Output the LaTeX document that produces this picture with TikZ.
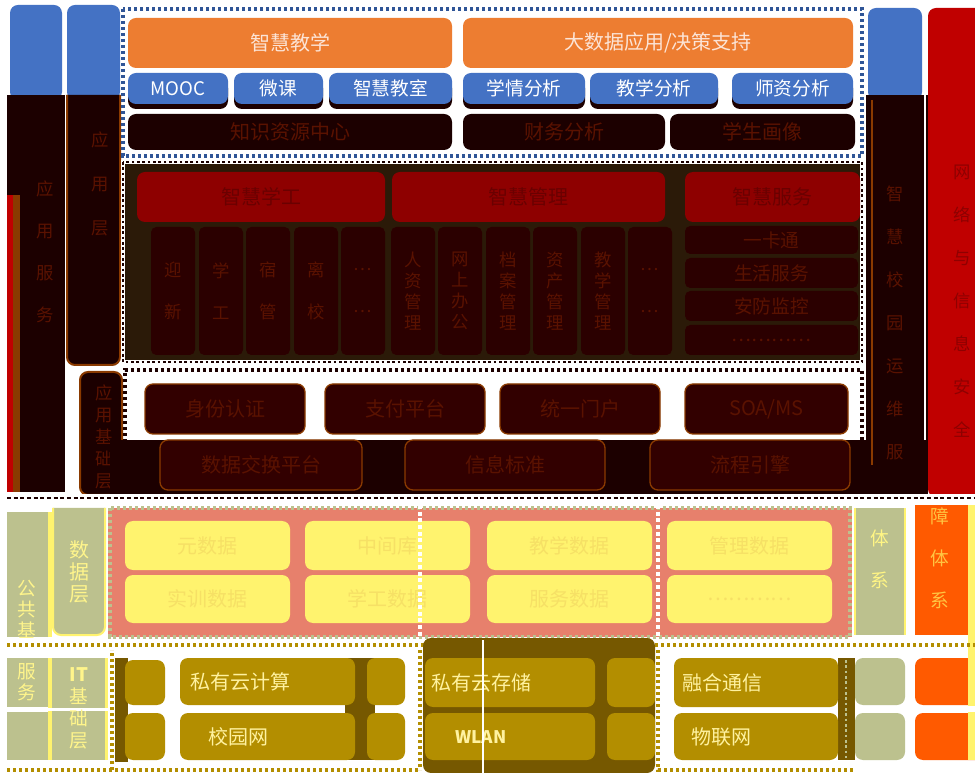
\documentclass[tikz,border=0pt]{standalone}
\usepackage{fontspec}
\setmainfont{Noto Sans CJK SC}
\usepackage{tikz}
\usetikzlibrary{calc}

\definecolor{blu}{HTML}{4472C4}
\definecolor{arancio}{HTML}{ED7D31}
\definecolor{pesca}{HTML}{FCE4D6}
\definecolor{nero}{HTML}{1C0000}
\definecolor{nerob}{HTML}{320000}
\definecolor{rossotxt}{HTML}{5A1200}
\definecolor{rossoh}{HTML}{8E0000}
\definecolor{rossotxtb}{HTML}{6A0000}
\definecolor{marrone}{HTML}{2B1A08}
\definecolor{bordo}{HTML}{8A3A00}
\definecolor{rossocol}{HTML}{C00000}
\definecolor{bluscuro}{HTML}{2F5597}
\definecolor{oliva}{HTML}{BCC18E}
\definecolor{salmone}{HTML}{E7806C}
\definecolor{giallo}{HTML}{FFF36E}
\definecolor{giallotxt}{HTML}{F6E065}
\definecolor{oro}{HTML}{B38E00}
\definecolor{orosc}{HTML}{765800}
\definecolor{orotxt}{HTML}{FFF2A0}
\definecolor{arancrosso}{HTML}{FF5A00}

% riquadro: nome, stile, x1, y1, x2, y2, testo
\newcommand{\blocco}[7]{%
  \node[#2, minimum width={((#5)-(#3))*0.75pt}, minimum height={((#6)-(#4))*0.75pt}]
    (#1) at ({((#3)+(#5))/2},{((#4)+(#6))/2}) {#7};}

\begin{document}
\begin{tikzpicture}[x=0.75pt, y=-0.75pt,
  box/.style={rounded corners=6pt, inner sep=0pt, align=center, font=\fontsize{15}{18}\selectfont},
  titolo/.style={box, fill=arancio, text=pesca},
  modulo/.style={box, fill=blu, text=white, font=\fontsize{14}{16}\selectfont},
  scuro/.style={box, fill=nero, text=rossotxt},
  testa/.style={box, fill=rossoh, text=rossotxtb},
  verticale/.style={box, rounded corners=4pt, fill=nerob!70!nero, text=rossotxt, font=\fontsize{13}{15.75}\selectfont},
  verticaleb/.style={verticale, font=\fontsize{13}{31.5}\selectfont},
  servizio/.style={box, rounded corners=4pt, fill=nerob!70!nero, text=rossotxt, font=\fontsize{14}{16}\selectfont},
  supporto/.style={box, fill=nerob, draw=bordo, line width=1pt, text=rossotxt},
  dato/.style={box, fill=giallo, text=giallotxt},
  infra/.style={box, fill=oro},
  infratxt/.style={inner sep=0pt, text=orotxt, font=\fontsize{15}{18}\selectfont},
  colvert/.style={inner sep=0pt, align=center},
  cornice/.style={dash pattern=on 2.5pt off 2pt, line width=2.5pt}]

  \useasboundingbox (0,0) rectangle (975,773);
  \fill[white] (0,0) rectangle (975,773);

  % colonne di sinistra
  \fill[blu, rounded corners=6pt] (10,5) rectangle (62,100);
  \fill[nero] (7,95) rectangle (65,492);
  \fill[rossocol] (7,195) rectangle (13,492);
  \fill[bordo] (13,195) rectangle (20,492);
  \node[colvert, text=rossotxt, font=\fontsize{13}{31.5}\selectfont] (servizi) at (45,252) {应\\用\\服\\务};
  \fill[blu, rounded corners=6pt] (67,5) rectangle (120,100);
  \draw[bordo, line width=1.5pt, fill=nero, rounded corners=6pt] (67,95) -- (67,365) -- (120,365) -- (120,95);
  \node[colvert, text=rossotxt, font=\fontsize{13}{33}\selectfont] (appl) at (100,184) {应\\用\\层};
  \draw[bordo, line width=1.5pt, fill=nero, rounded corners=6pt] (80,372) rectangle (122,495);
  \node[colvert, text=rossotxt, font=\fontsize{13}{16.5}\selectfont] (applbase) at (104,437) {应\\用\\基\\础\\层};

  % colonne di destra
  \fill[blu, rounded corners=6pt] (868,8) rectangle (922,100);
  \fill[nero] (866,95) rectangle (935,470);
  \draw[bordo, line width=1.5pt] (872,100) -- (872,465);
  \draw[white, line width=0.8pt] (925,95) -- (925,440);
  \fill[rossocol, rounded corners=6pt] (928,8) rectangle (985,497);
  \node[colvert, text=rossoh, font=\fontsize{13}{32.3}\selectfont] (sicurezza) at (962,301) {网\\络\\与\\信\\息\\安\\全};

  % livello applicativo: smart teaching
  \draw[cornice, bluscuro] (123,9) rectangle (862,156);
  \blocco{zhjx}{titolo}{128}{18}{452}{68}{智慧教学}
  \blocco{dsj}{titolo}{463}{18}{853}{68}{大数据应用/决策支持}
  \foreach \a/\b/\n/\t in {128/228/mooc/MOOC, 234/323/weike/微课, 329/452/jiaoshi/智慧教室,
      463/585/xueqing/学情分析, 590/718/jxfx/教学分析, 732/853/shizi/师资分析} {
    \fill[nero, rounded corners=6pt] (\a,80) rectangle (\b,109);
    \blocco{\n}{modulo}{\a}{73}{\b}{104}{\t}
  }
  \blocco{zsk}{scuro}{128}{114}{452}{150}{知识资源中心}
  \blocco{cwfx}{scuro}{463}{114}{665}{150}{财务分析}
  \blocco{xshx}{scuro}{670}{114}{855}{150}{学生画像}

  % livello applicativo: gestione
  \fill[marrone] (123,162) rectangle (862,362);
  \draw[white, line width=3pt] (123,162) rectangle (862,362);
  \draw[nero, dash pattern=on 2pt off 2pt, line width=1.5pt] (123,162) rectangle (862,362);
  \blocco{xg}{testa}{137}{172}{385}{222}{智慧学工}
  \blocco{gl}{testa}{392}{172}{665}{222}{智慧管理}
  \blocco{fw}{testa}{685}{172}{860}{222}{智慧服务}
  \foreach \c/\n/\t in {173/yx/迎\\新, 221/xgg/学\\工, 268/sg/宿\\管, 316/lx/离\\校, 363/xgd/…\\…} {
    \blocco{\n}{verticaleb}{\c-22}{227}{\c+22}{355}{\t}
  }
  \foreach \c/\n/\t in {413/rz/人\\资\\管\\理, 460/wsbg/网\\上\\办\\公, 508/da/档\\案\\管\\理,
      555/zc/资\\产\\管\\理, 603/jxgl/教\\学\\管\\理} {
    \blocco{\n}{verticale}{\c-22}{227}{\c+22}{355}{\t}
  }
  \blocco{gld}{verticaleb}{628}{227}{672}{355}{…\\…}
  \blocco{ykt}{servizio}{685}{226}{858}{254}{一卡通}
  \blocco{shfw}{servizio}{685}{258}{858}{288}{生活服务}
  \blocco{afjk}{servizio}{685}{291}{858}{321}{安防监控}
  \blocco{fwd}{servizio}{685}{325}{858}{355}{…………}

  % livello di supporto applicativo
  \draw[cornice, nero] (125,442) -- (125,370) -- (862,370) -- (862,442);
  \fill[nero] (110,440) rectangle (866,496);
  \blocco{sfrz}{supporto}{145}{384}{305}{434}{身份认证}
  \blocco{zfpt}{supporto}{325}{384}{485}{434}{支付平台}
  \blocco{tymh}{supporto}{500}{384}{660}{434}{统一门户}
  \blocco{soa}{supporto}{685}{384}{848}{434}{SOA/MS}
  \blocco{sjjh}{supporto}{160}{440}{362}{490}{数据交换平台}
  \blocco{xxbz}{supporto}{405}{440}{605}{490}{信息标准}
  \blocco{lcyq}{supporto}{650}{440}{850}{490}{流程引擎}
  \fill[nero] (866,470) rectangle (928,496);
  \node[colvert, text=rossotxt, font=\fontsize{13}{32.3}\selectfont] (operativo) at (895,323) {智\\慧\\校\\园\\运\\维\\服};
  \fill[white] (0,494) rectangle (975,503);
  \draw[nero, dash pattern=on 3pt off 2pt, line width=2pt] (7,498) -- (975,498);

  % livello dati
  \fill[oliva] (7,512) rectangle (48,637);
  \fill[giallo] (48,512) rectangle (52,637);
  \node[colvert, text=giallo!80!white, font=\fontsize{14}{15.75}\selectfont] (pubblico) at (27,609) {公\\共\\基};
  \draw[giallo, line width=1.5pt, fill=oliva, rounded corners=6pt] (53,508) -- (53,635) -- (105,635) -- (105,508);
  \node[colvert, text=giallo!80!white, font=\fontsize{15}{16.5}\selectfont] (datilv) at (79,572) {数\\据\\层};
  \fill[salmone] (108,508) rectangle (852,637);
  \draw[cornice, oliva] (110,508) rectangle (850,637);
  \blocco{ysj}{dato}{125}{521}{290}{570}{元数据}
  \blocco{zjk}{dato}{305}{521}{470}{570}{中间库}
  \blocco{jxsj}{dato}{487}{521}{652}{570}{教学数据}
  \blocco{glsj}{dato}{667}{521}{832}{570}{管理数据}
  \blocco{sxsj}{dato}{125}{575}{290}{623}{实训数据}
  \blocco{xgsj}{dato}{305}{575}{470}{623}{学工数据}
  \blocco{fwsj}{dato}{487}{575}{652}{623}{服务数据}
  \blocco{dtd}{dato}{667}{575}{832}{623}{…………}
  \draw[white, dash pattern=on 3pt off 2pt, line width=2.5pt] (420,505) -- (420,637);
  \draw[white, dash pattern=on 3pt off 2pt, line width=2.5pt] (658,505) -- (658,637);
  \fill[oliva] (855,508) rectangle (905,635);
  \draw[giallo, line width=1.5pt] (855,508) -- (855,635) (905,508) -- (905,635);
  \node[colvert, text=giallo!85!white, font=\fontsize{14}{31.5}\selectfont] (sistema) at (880,559) {体\\系};
  \fill[arancrosso] (915,505) rectangle (968,635);
  \fill[giallo] (968,505) rectangle (975,760);
  \node[colvert, text=giallo!60!orange, font=\fontsize{14}{31.5}\selectfont] (garanzia) at (940,558) {障\\体\\系};

  % livello infrastruttura IT
  \draw[cornice, oro] (7,645) -- (975,645);
  \fill[oliva] (7,658) rectangle (48,707);
  \fill[oliva] (7,712) rectangle (48,760);
  \fill[giallo] (48,658) rectangle (52,760);
  \node[colvert, text=giallo!80!white, font=\fontsize{14}{15.75}\selectfont] (pubblicob) at (27,682) {服\\务};
  \fill[oliva] (52,658) rectangle (105,760);
  \fill[giallo] (105,658) rectangle (108,760);
  \fill[white] (7,708) rectangle (110,711);
  \node[colvert, text=giallo!80!white, font=\fontsize{14}{16.5}\selectfont] (itlv) at (79,708) {\textbf{IT}\\基\\础\\层};
  \draw[cornice, oro] (112,770) -- (112,650) (420,650) -- (420,770);
  \draw[cornice, oro] (7,770) -- (420,770);
  \fill[orosc] (115,658) rectangle (128,762);
  \blocco{itsa}{infra}{125}{660}{165}{705}{}
  \blocco{itsb}{infra}{125}{713}{165}{760}{}
  \fill[orosc] (345,658) rectangle (375,760);
  \blocco{cloud}{infra}{180}{658}{355}{705}{}
  \node[infratxt] (cloud-t) at (240,682) {私有云计算};
  \blocco{clouds}{infra}{367}{658}{405}{705}{}
  \blocco{campus}{infra}{180}{713}{355}{760}{}
  \node[infratxt] (campus-t) at (238,737) {校园网};
  \blocco{campuss}{infra}{367}{713}{405}{760}{}
  \fill[orosc, rounded corners=6pt] (423,638) rectangle (655,773);
  \blocco{storage}{infra}{425}{658}{595}{707}{}
  \node[infratxt] (storage-t) at (481,683) {私有云存储};
  \blocco{storages}{infra}{607}{658}{655}{707}{}
  \blocco{wlan}{infra}{425}{713}{595}{760}{}
  \node[infratxt, font=\fontsize{13}{16}\selectfont\bfseries] (wlan-t) at (481,737) {WLAN};
  \blocco{wlans}{infra}{607}{713}{655}{760}{}
  \draw[white, line width=1pt] (483,640) -- (483,773);
  \draw[cornice, oro] (658,650) -- (658,770) -- (855,770);
  \fill[orosc] (838,658) rectangle (855,760);
  \draw[oliva, dash pattern=on 2pt off 2pt, line width=2pt] (846,660) -- (846,758);
  \blocco{conv}{infra}{674}{658}{838}{707}{}
  \node[infratxt] (conv-t) at (722,683) {融合通信};
  \blocco{iot}{infra}{674}{713}{838}{760}{}
  \node[infratxt] (iot-t) at (721,737) {物联网};
  \fill[oliva, rounded corners=6pt] (855,658) rectangle (905,705);
  \fill[oliva, rounded corners=6pt] (855,713) rectangle (905,760);
  \fill[arancrosso, rounded corners=6pt] (915,658) rectangle (985,705);
  \fill[arancrosso, rounded corners=6pt] (915,713) rectangle (985,760);
  \fill[giallo] (968,658) rectangle (975,760);
  \fill[white] (968,706) rectangle (975,712);
\end{tikzpicture}
\end{document}
